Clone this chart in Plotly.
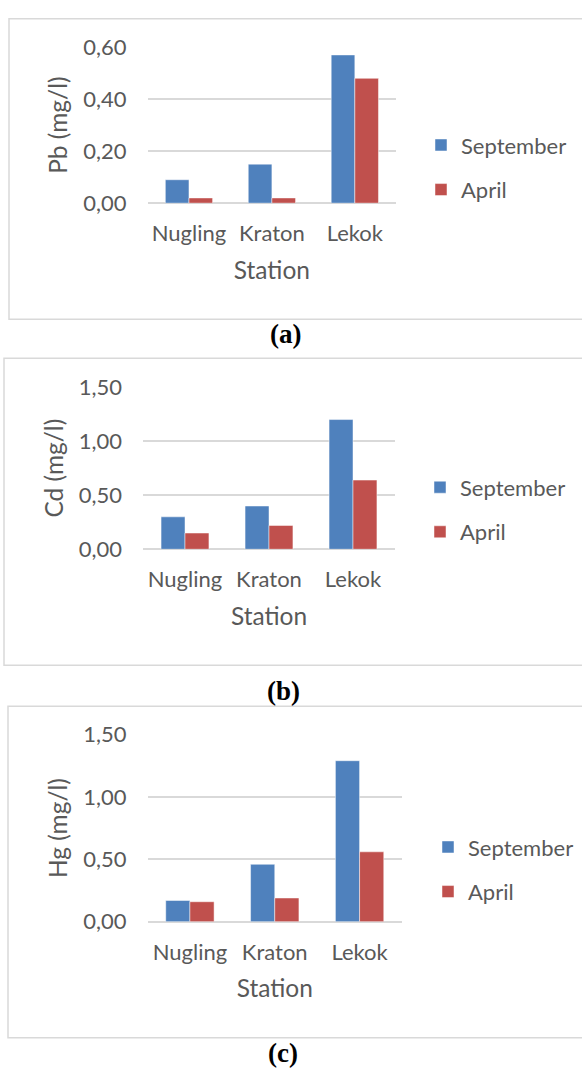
import plotly.graph_objects as go

W, H = 582, 1079

stations = ["Nugling", "Kraton", "Lekok"]
series_names = ["September", "April"]
pb_sep = [0.09, 0.15, 0.57]
pb_apr = [0.02, 0.02, 0.48]
cd_sep = [0.30, 0.40, 1.20]
cd_apr = [0.15, 0.22, 0.64]
hg_sep = [0.17, 0.46, 1.29]
hg_apr = [0.16, 0.19, 0.56]
y_titles = ["Pb (mg/l)", "Cd (mg/l)", "Hg (mg/l)"]
y_ticks = [[0, 0.2, 0.4, 0.6], [0, 0.5, 1.0, 1.5], [0, 0.5, 1.0, 1.5]]
y_ticklabels = [["0,00", "0,20", "0,40", "0,60"],
                ["0,00", "0,50", "1,00", "1,50"],
                ["0,00", "0,50", "1,00", "1,50"]]
captions = ["(a)", "(b)", "(c)"]

colors = ["#4F81BD", "#C0504D"]
FONT = "Lato, Carlito, sans-serif"
GREY = "#595959"
FS = 22
FS_TITLE = 24.5

def px_x(p):
    return p / W

def px_y(p):
    return 1 - p / H

# panel geometry in pixels: plot x0, x1, y_top, y_bottom
plots = [
    (147.5, 396.3, 34.0, 194.0),
    (143.0, 395.0, 382.7, 549.0),
    (147.5, 402.0, 739.0, 931.0),
]
frames = [(9, 5, 313), (4, 353, 668), (8, 710, 1050)]
caption_pos = [(285, 328.5), (283, 694), (283, 1066)]
legend_pos = [(433, 136), (432, 487), (440, 856)]

data = [(pb_sep, pb_apr), (cd_sep, cd_apr), (hg_sep, hg_apr)]

fig = go.Figure()
layout = dict(
    width=W, height=H,
    margin=dict(l=0, r=0, t=0, b=0),
    paper_bgcolor="white", plot_bgcolor="white",
    barmode="group", bargap=0.43, bargroupgap=0,
    showlegend=True,
    font=dict(family=FONT, size=FS, color=GREY),
)

shapes = []
annotations = []
for i in range(3):
    sfx = "" if i == 0 else str(i + 1)
    xa = "x" + sfx
    ya = "y" + sfx
    leg = "legend" + sfx
    for j, vals in enumerate(data[i]):
        fig.add_trace(go.Bar(
            x=stations, y=vals, name=series_names[j],
            marker=dict(color=colors[j], line=dict(color="rgba(255,255,255,0.6)", width=0.8)),
            xaxis=xa, yaxis=ya, legend=leg, legendgroup=f"g{i}{j}",
        ))
    x0, x1, yt, yb = plots[i]
    layout["xaxis" + sfx] = dict(
        domain=[px_x(x0), px_x(x1)], anchor=ya,
        showgrid=False, showline=False, zeroline=False,
        ticks="", ticklabelstandoff=15,
        tickfont=dict(family=FONT, size=FS, color=GREY),
        title=dict(text="Station", standoff=16, font=dict(family=FONT, size=FS_TITLE, color=GREY)),
        fixedrange=True,
    )
    layout["yaxis" + sfx] = dict(
        domain=[px_y(yb), px_y(yt)], anchor=xa,
        range=[0, y_ticks[i][-1]],
        tickvals=y_ticks[i], ticktext=y_ticklabels[i],
        showgrid=True, gridcolor="#D9D9D9", gridwidth=1.5,
        zeroline=True, zerolinecolor="#D9D9D9", zerolinewidth=1.5,
        showline=False, ticks="", ticklabelstandoff=20,
        tickfont=dict(family=FONT, size=FS, color=GREY),
        title=dict(text=y_titles[i], standoff=8, font=dict(family=FONT, size=FS_TITLE, color=GREY)),
        fixedrange=True,
    )
    lx, ly = legend_pos[i]
    layout[leg] = dict(
        x=px_x(lx - 12), y=px_y(ly - 23), xanchor="left", yanchor="top",
        bgcolor="rgba(0,0,0,0)", borderwidth=0,
        font=dict(family=FONT, size=FS, color=GREY),
        tracegroupgap=13, itemwidth=30, traceorder="grouped",
    )
    fx, fy0, fy1 = frames[i]
    shapes.append(dict(type="rect", xref="paper", yref="paper",
                       x0=px_x(fx), x1=px_x(W + 20), y0=px_y(fy1), y1=px_y(fy0),
                       line=dict(color="#D9D9D9", width=1.5), layer="below"))
    cx, cy = caption_pos[i]
    annotations.append(dict(text="<b>" + captions[i] + "</b>", xref="paper", yref="paper",
                            x=px_x(cx), y=px_y(cy), xanchor="center", yanchor="middle",
                            showarrow=False,
                            font=dict(family="Liberation Serif, Times New Roman, serif", size=27, color="black")))

layout["shapes"] = shapes
layout["annotations"] = annotations
fig.update_layout(**layout)
fig.write_html("out.html", config={"displayModeBar": False},
               post_script="document.body.style.margin='0';document.body.style.overflow='hidden';")
